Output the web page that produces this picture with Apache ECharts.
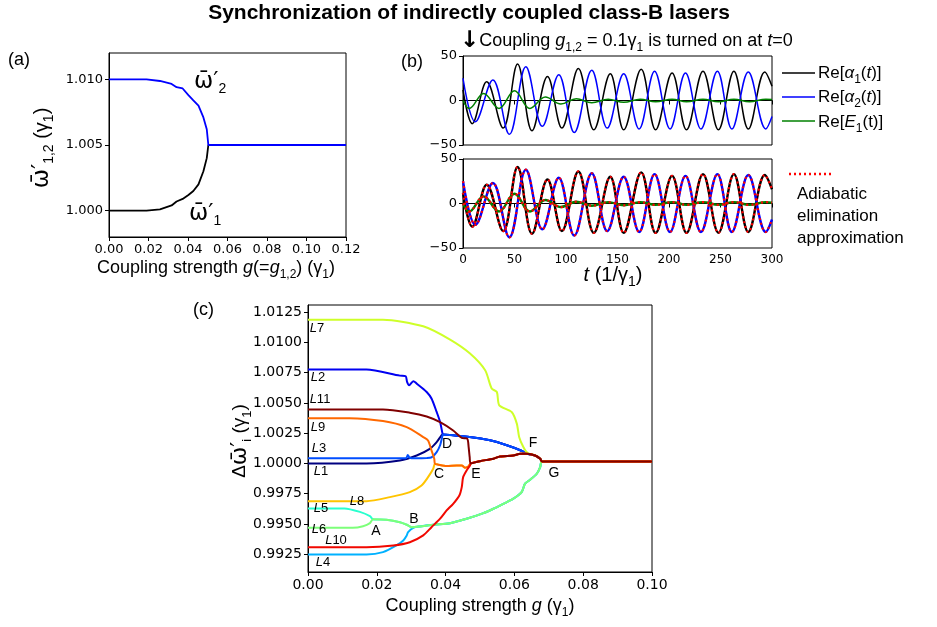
<!DOCTYPE html>
<html>
<head>
<meta charset="utf-8">
<script src="https://cdn.jsdelivr.net/npm/echarts@6/dist/echarts.min.js"></script>
<style>html,body{margin:0;padding:0;background:#fff}#main{width:937px;height:627px}</style>
</head>
<body>
<div id="main"></div>
<script>
// panel (a): mean frequencies vs coupling g
var aG = [0, 0.019, 0.0258, 0.0317, 0.0342, 0.0373, 0.0402, 0.0427, 0.0453, 0.0478, 0.0495, 0.0503, 0.12];
var aW2 = [1.0100, 1.0100, 1.00987, 1.00965, 1.0094, 1.0093, 1.0088, 1.0084, 1.0080, 1.0071, 1.0062, 1.0050, 1.0050];
var aW1 = [1.0000, 1.0000, 1.0001, 1.0004, 1.0007, 1.0009, 1.0012, 1.0015, 1.0020, 1.0030, 1.0040, 1.0050, 1.0050];

// panel (b): extrema of the time traces
var tA1 = [0, 9, 23, 39, 53, 67, 82, 96, 112, 127, 143, 156, 173, 187, 203, 217, 233, 248, 263, 277, 293, 300];
var vA1 = [12, -26, 21, -31, 41, -34, 27, -31, 36, -33, 30, -33, 35, -33, 31, -33, 33, -33, 33, -32, 32, 16];
var tA2 = [0, 12, 29, 45, 61, 77, 93, 108, 125, 140, 156, 171, 186, 201, 216, 231, 247, 261, 277, 294, 300];
var vA2 = [25, -24, 23, -38, 38, -29, 29, -36, 34, -31, 30, -32, 33, -32, 31, -32, 33, -32, 32, -32, -18];
var tE1 = [0, 6, 20, 35, 50, 65, 80, 95, 110, 125, 141, 156, 172, 187, 203, 217, 233, 248, 263, 278, 294, 300];
var vE1 = [0, -9, 8, -9, 11, -9, 4, -4, 2, -2.5, 1.5, -2, 1.5, -1.5, 1.5, -1.5, 1.5, -1.5, 1.5, -1.5, 1.5, 1];

// panel (c): eleven branches before they merge
var l1G = [0, 0.017, 0.0267, 0.0316, 0.0354, 0.0374, 0.0388];
var l1V = [1.0000, 1.0000, 1.00025, 1.00066, 1.0012, 1.00176, 1.00232];
var l2G = [0, 0.017, 0.0267, 0.0284, 0.0288, 0.0294, 0.0306, 0.032, 0.0345, 0.0359, 0.0374, 0.0384, 0.0391];
var l2V = [1.00775, 1.00775, 1.00725, 1.0072, 1.00673, 1.00645, 1.00678, 1.0065, 1.0059, 1.00536, 1.00425, 1.00343, 1.00247];
var l3G = [0, 0.0285, 0.029, 0.0296, 0.031, 0.0345, 0.0359, 0.0374, 0.0384, 0.0391];
var l3V = [1.00044, 1.00044, 1.0007, 1.00046, 1.00042, 1.00044, 1.0005, 1.00094, 1.0015, 1.0023];
var l4G = [0, 0.017, 0.0218, 0.0257, 0.0277, 0.0287, 0.0291, 0.0306];
var l4V = [0.99249, 0.99249, 0.99268, 0.99323, 0.99364, 0.99406, 0.99433, 0.99469];
var l5G = [0, 0.0106, 0.0151, 0.018, 0.0189];
var l5V = [0.99629, 0.99629, 0.99600, 0.99565, 0.9954];
var l6G = [0, 0.013, 0.016, 0.018, 0.0189];
var l6V = [0.99469, 0.99469, 0.99482, 0.99507, 0.9954];
var l7G = [0, 0.0218, 0.0335, 0.0413, 0.0471, 0.0515, 0.0534, 0.0549, 0.0556, 0.0592, 0.0607, 0.0614, 0.0626, 0.0638];
var l7V = [1.01187, 1.01187, 1.01132, 1.01022, 1.00907, 1.00769, 1.00618, 1.0059, 1.0048, 1.00425, 1.00329, 1.00216, 1.00136, 1.00087];
var l8G = [0, 0.017, 0.0238, 0.0296, 0.033, 0.0349, 0.0364, 0.0369];
var l8V = [0.99689, 0.99689, 0.99722, 0.99763, 0.99818, 0.99887, 0.99956, 0.99998];
var l9G = [0, 0.0121, 0.0218, 0.0287, 0.0335, 0.0349, 0.0359, 0.0367, 0.0369];
var l9V = [1.00374, 1.00374, 1.0035, 1.0030, 1.00218, 1.0019, 1.00108, 1.00039, 0.99998];
var l10G = [0, 0.017, 0.0248, 0.0296, 0.0335, 0.0359, 0.0384, 0.0403, 0.0422, 0.044, 0.0447, 0.0451, 0.0461, 0.0471];
var l10V = [0.99309, 0.99309, 0.99323, 0.9935, 0.99406, 0.99474, 0.99544, 0.99612, 0.99667, 0.99736, 0.99805, 0.99887, 0.99942, 0.99984];
var l11G = [0, 0.0218, 0.0296, 0.0345, 0.0384, 0.0422, 0.0447, 0.0463, 0.0467, 0.047];
var l11V = [1.00446, 1.00446, 1.00419, 1.00388, 1.00341, 1.00272, 1.00212, 1.00204, 1.00135, 1.00052];

// merged branches A-B, B-G, C-E, D-F, E-F, F-G and the synchronized tail
var abG = [0.0228, 0.0267, 0.0287, 0.0301];
var abV = [0.99535, 0.99515, 0.99494, 0.99474];
var bgG = [0.0325, 0.0364, 0.0413, 0.0461, 0.051, 0.0539, 0.0568, 0.0597, 0.0621, 0.0631, 0.0646, 0.0665, 0.0675, 0.068];
var bgV = [0.9948, 0.99494, 0.99507, 0.99543, 0.9959, 0.99626, 0.99667, 0.99709, 0.99763, 0.99833, 0.99866, 0.99915, 0.9997, 1.00017];
var ceG = [0.0379, 0.0403, 0.0432, 0.0447, 0.0456, 0.0466];
var ceV = [0.9999, 0.99978, 0.99984, 0.99984, 0.99965, 0.99975];
var dfG = [0.0392, 0.047, 0.0529, 0.0578, 0.0617, 0.0636];
var dfV = [1.0024, 1.00219, 1.00191, 1.0015, 1.00109, 1.00082];
var efG = [0.0473, 0.05, 0.0539, 0.0558, 0.0597, 0.0617, 0.0636];
var efV = [1.0000, 1.00019, 1.00039, 1.00058, 1.00066, 1.0008, 1.0008];
var fgG = [0.066, 0.0675, 0.068, 0.1];
var fgV = [1.00066, 1.00039, 1.00017, 1.00017];

var cColors = ['#000080', '#0000f1', '#004dff', '#00b1ff', '#29ffce', '#7dff7a', '#ceff29', '#ffc400', '#ff6800', '#f10800', '#800000'];

function xy() {
  var out = [];
  for (var k = 0; k < arguments.length; k += 2) {
    var xs = arguments[k], ys = arguments[k + 1];
    for (var i = 0; i < xs.length; i++) out.push([xs[i], ys[i]]);
  }
  return out;
}

var cPaths = [
  xy(l1G, l1V, dfG, dfV, fgG, fgV),
  xy(l2G, l2V, dfG, dfV, fgG, fgV),
  xy(l3G, l3V, dfG, dfV, fgG, fgV),
  xy(l4G, l4V, bgG, bgV, [0.1], [1.00017]),
  xy(l5G, l5V, abG, abV, bgG, bgV, [0.1], [1.00017]),
  xy(l6G, l6V, abG, abV, bgG, bgV, [0.1], [1.00017]),
  xy(l7G, l7V, fgG, fgV),
  xy(l8G, l8V, ceG, ceV, efG, efV, fgG, fgV),
  xy(l9G, l9V, ceG, ceV, efG, efV, fgG, fgV),
  xy(l10G, l10V, efG, efV, fgG, fgV),
  xy(l11G, l11V, efG, efV, fgG, fgV)
];

var SANS = '"Liberation Sans", Arial, sans-serif';
var TICK = '"DejaVu Sans", sans-serif';

function rich(sz) {
  var lh = sz + 8;
  return {
    n: {fontSize: sz, fontFamily: SANS, lineHeight: lh, fill: '#000'},
    i: {fontSize: sz, fontFamily: SANS, fontStyle: 'italic', lineHeight: lh, fill: '#000'},
    s: {fontSize: Math.round(sz * 0.68), fontFamily: SANS, lineHeight: lh, verticalAlign: 'bottom', fill: '#000'},
    w: {fontSize: sz + 3, fontFamily: '"DejaVu Sans", sans-serif', lineHeight: lh, fill: '#000'},
    b: {fontSize: sz + 5, fontFamily: '"DejaVu Sans", sans-serif', fontWeight: 'bold', lineHeight: lh, fill: '#000'}
  };
}

function txt(x, y, s, sz, opts) {
  opts = opts || {};
  return {
    type: 'text', x: x, y: y, rotation: opts.rot || 0, z: 100,
    style: {
      text: s, rich: rich(sz), fontSize: sz, fontFamily: SANS, fill: '#000',
      align: opts.align || 'left', verticalAlign: opts.va || 'middle'
    }
  };
}

function xAx(idx, min, max, step, fmt, show, fs) {
  return {
    gridIndex: idx, type: 'value', min: min, max: max, interval: step,
    axisLine: {lineStyle: {color: '#000'}},
    axisTick: {length: 4, lineStyle: {color: '#000'}},
    axisLabel: {show: show, color: '#000', fontFamily: TICK, fontSize: fs, margin: 6, formatter: fmt},
    splitLine: {show: false}
  };
}

function yAx(idx, min, max, ticks, fmt, fs, step) {
  var ax = {
    gridIndex: idx, type: 'value', min: min, max: max,
    axisLine: {show: true, lineStyle: {color: '#000'}},
    axisTick: {length: 4, lineStyle: {color: '#000'}},
    axisLabel: {color: '#000', fontFamily: TICK, fontSize: fs, margin: 6, formatter: fmt},
    splitLine: {show: false}
  };
  if (step) ax.interval = step;
  else {
    ax.axisTick.customValues = ticks;
    ax.axisLabel.customValues = ticks;
  }
  return ax;
}

function line(xi, data, color, width, extra) {
  var s = {
    type: 'line', xAxisIndex: xi, yAxisIndex: xi, data: data, showSymbol: false, symbol: 'none',
    lineStyle: {color: color, width: width}, animation: false, silent: true
  };
  for (var k in extra) s[k] = extra[k];
  return s;
}

var chart = echarts.init(document.getElementById('main'));
var f2 = function (v) { return v.toFixed(2); };
var fb = function (v) { return v < 0 ? '\u2212' + (-v) : '' + v; };
var box = {show: true, borderColor: '#000', borderWidth: 1, backgroundColor: 'transparent'};
var dot = {color: '#ff0000', width: 2.2, type: [2, 3]};

var series = [
  line(0, xy(aG, aW1), '#000000', 1.8),
  line(0, xy(aG, aW2), '#0000ff', 1.8),
  line(1, xy(tA1, vA1), '#000000', 1.5, {smooth: 0.38}),
  line(1, xy(tA2, vA2), '#0000ff', 1.5, {smooth: 0.38}),
  line(1, xy(tE1, vE1), '#008000', 1.5, {smooth: 0.38}),
  line(2, xy(tA1, vA1), '#000000', 2.4, {smooth: 0.38}),
  line(2, xy(tA2, vA2), '#0000ff', 2.4, {smooth: 0.38}),
  line(2, xy(tE1, vE1), '#008000', 2.4, {smooth: 0.38}),
  line(2, xy(tA1, vA1), '#ff0000', 2.2, {smooth: 0.38, lineStyle: dot}),
  line(2, xy(tA2, vA2), '#ff0000', 2.2, {smooth: 0.38, lineStyle: dot}),
  line(2, xy(tE1, vE1), '#ff0000', 2.2, {smooth: 0.38, lineStyle: dot})
];
for (var i = 0; i < cPaths.length; i++) {
  series.push(line(3, cPaths[i], cColors[i], 2, {smooth: 0.25}));
}

var cLabels = [
  ['L7', 317, 328], ['L2', 318, 377], ['L11', 320, 399], ['L9', 318, 427], ['L3', 319, 448], ['L1', 321, 471],
  ['L8', 357, 501], ['L5', 321, 508], ['L6', 319, 529], ['L10', 336, 540], ['L4', 323, 562]
];
var cPoints = [['A', 376, 531], ['B', 414, 519], ['C', 439, 474], ['D', 447, 444], ['E', 476, 474], ['F', 533, 443], ['G', 554, 473]];

var graphic = [
  {type: 'text', x: 469, y: 13, z: 100, style: {text: 'Synchronization of indirectly coupled class-B lasers', fontFamily: '"Liberation Sans Narrow", "Liberation Sans", Arial', fontWeight: 'bold', fontSize: 21, fill: '#000', align: 'center', verticalAlign: 'middle'}},
  txt(8, 60, '(a)', 18),
  txt(401, 62, '(b)', 18),
  txt(193, 310, '(c)', 18),
  // panel a
  txt(216, 268, '{n|Coupling strength }{i|g}{n|(=}{i|g}{s|1,2}{n|) (\u03b3}{s|1}{n|)}', 18, {align: 'center'}),
  txt(42, 148, '{w|\u03c9\u0304\u2032}{s|1,2}{n| (\u03b3}{s|1}{n|)}', 20, {align: 'center', rot: Math.PI / 2}),
  txt(194, 82, '{w|\u03c9\u0304\u2032}{s|2}', 20),
  txt(189, 214, '{w|\u03c9\u0304\u2032}{s|1}', 20),
  // panel b
  txt(460, 41, '{b|\u2193}{n|Coupling }{i|g}{s|1,2}{n| = 0.1\u03b3}{s|1}{n| is turned on at }{i|t}{n|=0}', 18),
  txt(613, 275, '{i|t}{n| (1/\u03b3}{s|1}{n|)}', 20, {align: 'center'}),
  txt(818, 73, '{n|Re[}{i|\u03b1}{s|1}{n|(}{i|t}{n|)]}', 17),
  txt(818, 97, '{n|Re[}{i|\u03b1}{s|2}{n|(}{i|t}{n|)]}', 17),
  txt(818, 122, '{n|Re[}{i|E}{s|1}{n|(t)]}', 17),
  txt(797, 194, 'Adiabatic', 17),
  txt(797, 216, 'elimination', 17),
  txt(797, 238, 'approximation', 17),
  {type: 'line', shape: {x1: 782, y1: 73, x2: 815, y2: 73}, style: {stroke: '#000', lineWidth: 1.5}},
  {type: 'line', shape: {x1: 782, y1: 97, x2: 815, y2: 97}, style: {stroke: '#0000ff', lineWidth: 1.5}},
  {type: 'line', shape: {x1: 782, y1: 121, x2: 815, y2: 121}, style: {stroke: '#008000', lineWidth: 1.5}},
  {type: 'line', shape: {x1: 789, y1: 174, x2: 832, y2: 174}, style: {stroke: '#ff0000', lineWidth: 2.4, lineDash: [2, 3]}},
  // panel c
  txt(480, 606, '{n|Coupling strength }{i|g}{n| (\u03b3}{s|1}{n|)}', 18, {align: 'center'}),
  txt(240, 441, '{n|\u0394}{w|\u03c9\u0304\u2032}{s|i}{n| (\u03b3}{s|1}{n|)}', 19, {align: 'center', rot: Math.PI / 2})
];
cLabels.forEach(function (l) {
  graphic.push(txt(l[1], l[2], '{i|L}{n|' + l[0].slice(1) + '}', 13, {align: 'center'}));
});
cPoints.forEach(function (p) {
  graphic.push(txt(p[1], p[2], p[0], 14, {align: 'center'}));
});

var option = {
  backgroundColor: '#ffffff',
  animation: false,
  grid: [
    {left: 109, top: 53, width: 237, height: 184},
    {left: 463, top: 56, width: 309, height: 89},
    {left: 463, top: 159, width: 309, height: 89},
    {left: 308, top: 305, width: 344, height: 267}
  ].map(function (g) { for (var k in box) g[k] = box[k]; return g; }),
  xAxis: [
    xAx(0, 0, 0.12, 0.02, f2, true, 13),
    xAx(1, 0, 300, 50, null, false, 12),
    xAx(2, 0, 300, 50, null, true, 12),
    xAx(3, 0, 0.1, 0.02, f2, true, 14)
  ],
  yAxis: [
    yAx(0, 0.998, 1.012, [1.0, 1.005, 1.01], function (v) { return v.toFixed(3); }, 13),
    yAx(1, -50, 50, null, fb, 13, 50),
    yAx(2, -50, 50, null, fb, 13, 50),
    yAx(3, 0.99104, 1.01308, [0.9925, 0.995, 0.9975, 1.0, 1.0025, 1.005, 1.0075, 1.01, 1.0125], function (v) { return v.toFixed(4); }, 14)
  ],
  series: series,
  graphic: graphic
};
chart.setOption(option);
</script>
</body>
</html>
